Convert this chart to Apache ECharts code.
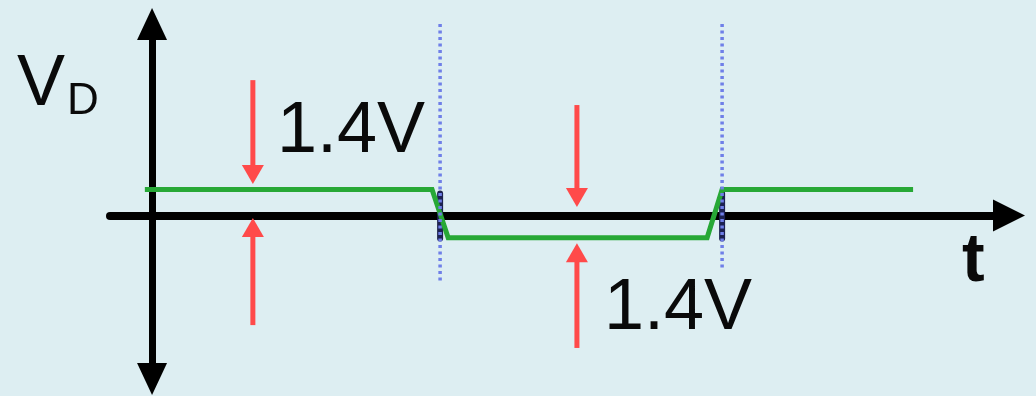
<!DOCTYPE html>
<html>
<head>
<meta charset="utf-8">
<script src="https://cdn.jsdelivr.net/npm/echarts@6/dist/echarts.min.js"></script>
<style>
html,body{margin:0;padding:0;background:#ddeef2;}
#chart{width:1036px;height:396px;}
</style>
</head>
<body>
<div id="chart"></div>
<script>
// Axis ranges (time units, volts)
const xRange = [-1.46, 29.75];
const yRange = [-8.8, 10.3];

// Green waveform V_D(t)
const waveT = [-0.25, 9.72, 10.28, 19.27, 19.79, 26.42];
const waveV = [1.4, 1.4, -1.2, -1.2, 1.4, 1.4];

// Red measurement arrows: [t, tail V, tip V]
const redArrows = [
  [3.50, 7.28, 1.69],
  [3.50, -5.90, -0.14],
  [14.75, 5.94, 0.45],
  [14.75, -7.13, -1.49]
];

// Blue dotted transition markers: [t, top V, bottom V]
const dottedLines = [
  [10.0, 10.3, -3.66],
  [19.79, 10.3, -2.96]
];

// Dark switching segments: [t, top V, bottom V]
const darkSegments = [
  [10.0, 1.18, -1.24],
  [19.79, 1.18, -1.24]
];

// Texts
const labelVD = ['V', 'D'];
const labelDrop = '1.4V';
const labelT = 't';

const RED = '#ff4a4a';
const GREEN = '#27a836';
const BLUE_DOT = '#6f7fe8';
const NAVY = '#1c2150';
const INK = '#0a0a0a';
const FONT = '"Liberation Sans", Arial, sans-serif';

const chart = echarts.init(document.getElementById('chart'), null, {renderer: 'canvas'});

function arrowItem(params, api) {
  const x = api.value(0), y0 = api.value(1), y1 = api.value(2);
  const p0 = api.coord([x, y0]), p1 = api.coord([x, y1]);
  const dir = p1[1] > p0[1] ? 1 : -1;
  const headLen = 19, headW = 22;
  return {
    type: 'group',
    children: [
      {type: 'line', shape: {x1: p0[0], y1: p0[1], x2: p1[0], y2: p1[1] - dir * (headLen - 2)},
        style: {stroke: RED, lineWidth: 5}},
      {type: 'polygon', shape: {points: [[p1[0], p1[1]], [p1[0] - headW / 2, p1[1] - dir * headLen], [p1[0] + headW / 2, p1[1] - dir * headLen]]},
        style: {fill: RED}}
    ]
  };
}

function segItem(style) {
  return function (params, api) {
    const x = api.value(0);
    const p0 = api.coord([x, api.value(1)]), p1 = api.coord([x, api.value(2)]);
    return {type: 'line', shape: {x1: p0[0], y1: p0[1], x2: p1[0], y2: p1[1]}, style: style};
  };
}

const option = {
  backgroundColor: '#ddeef2',
  animation: false,
  grid: {left: 110, right: 27, top: 24, bottom: 17, containLabel: false},
  xAxis: {
    type: 'value', min: xRange[0], max: xRange[1],
    axisLine: {show: true, onZero: true, symbol: ['none', 'triangle'], symbolSize: [32, 32],
      lineStyle: {color: '#000', width: 8}},
    axisTick: {show: false}, axisLabel: {show: false}, splitLine: {show: false}
  },
  yAxis: {
    type: 'value', min: yRange[0], max: yRange[1],
    axisLine: {show: true, onZero: true, symbol: ['triangle', 'triangle'], symbolSize: [30, 32],
      lineStyle: {color: '#000', width: 7}},
    axisTick: {show: false}, axisLabel: {show: false}, splitLine: {show: false}
  },
  series: [
    {
      type: 'custom', name: 'switch', z: 3,
      renderItem: segItem({stroke: NAVY, lineWidth: 6, lineCap: 'round'}),
      data: darkSegments
    },
    {
      type: 'line', name: 'VD', z: 4, symbol: 'none',
      lineStyle: {color: GREEN, width: 5, join: 'miter'},
      data: waveT.map((t, i) => [t, waveV[i]])
    },
    {
      type: 'custom', name: 'dotted', z: 5,
      renderItem: segItem({stroke: BLUE_DOT, lineWidth: 3.5, lineDash: [3, 3.5]}),
      data: dottedLines
    },
    {
      type: 'custom', name: 'arrows', z: 6,
      renderItem: arrowItem,
      data: redArrows
    }
  ],
  graphic: [
    {type: 'text', x: 17, y: 85, style: {text: labelVD[0], font: '72px ' + FONT, fill: INK, verticalAlign: 'middle'}},
    {type: 'text', x: 67, y: 102, style: {text: labelVD[1], font: '44px ' + FONT, fill: INK, verticalAlign: 'middle'}},
    {type: 'text', x: 277, y: 132, style: {text: labelDrop, font: '72px ' + FONT, fill: INK, verticalAlign: 'middle'}},
    {type: 'text', x: 604, y: 309, style: {text: labelDrop, font: '72px ' + FONT, fill: INK, verticalAlign: 'middle'}},
    {type: 'text', x: 962, y: 262, style: {text: labelT, font: 'bold 68px ' + FONT, fill: INK, verticalAlign: 'middle'}}
  ]
};
chart.setOption(option);
</script>
</body>
</html>
